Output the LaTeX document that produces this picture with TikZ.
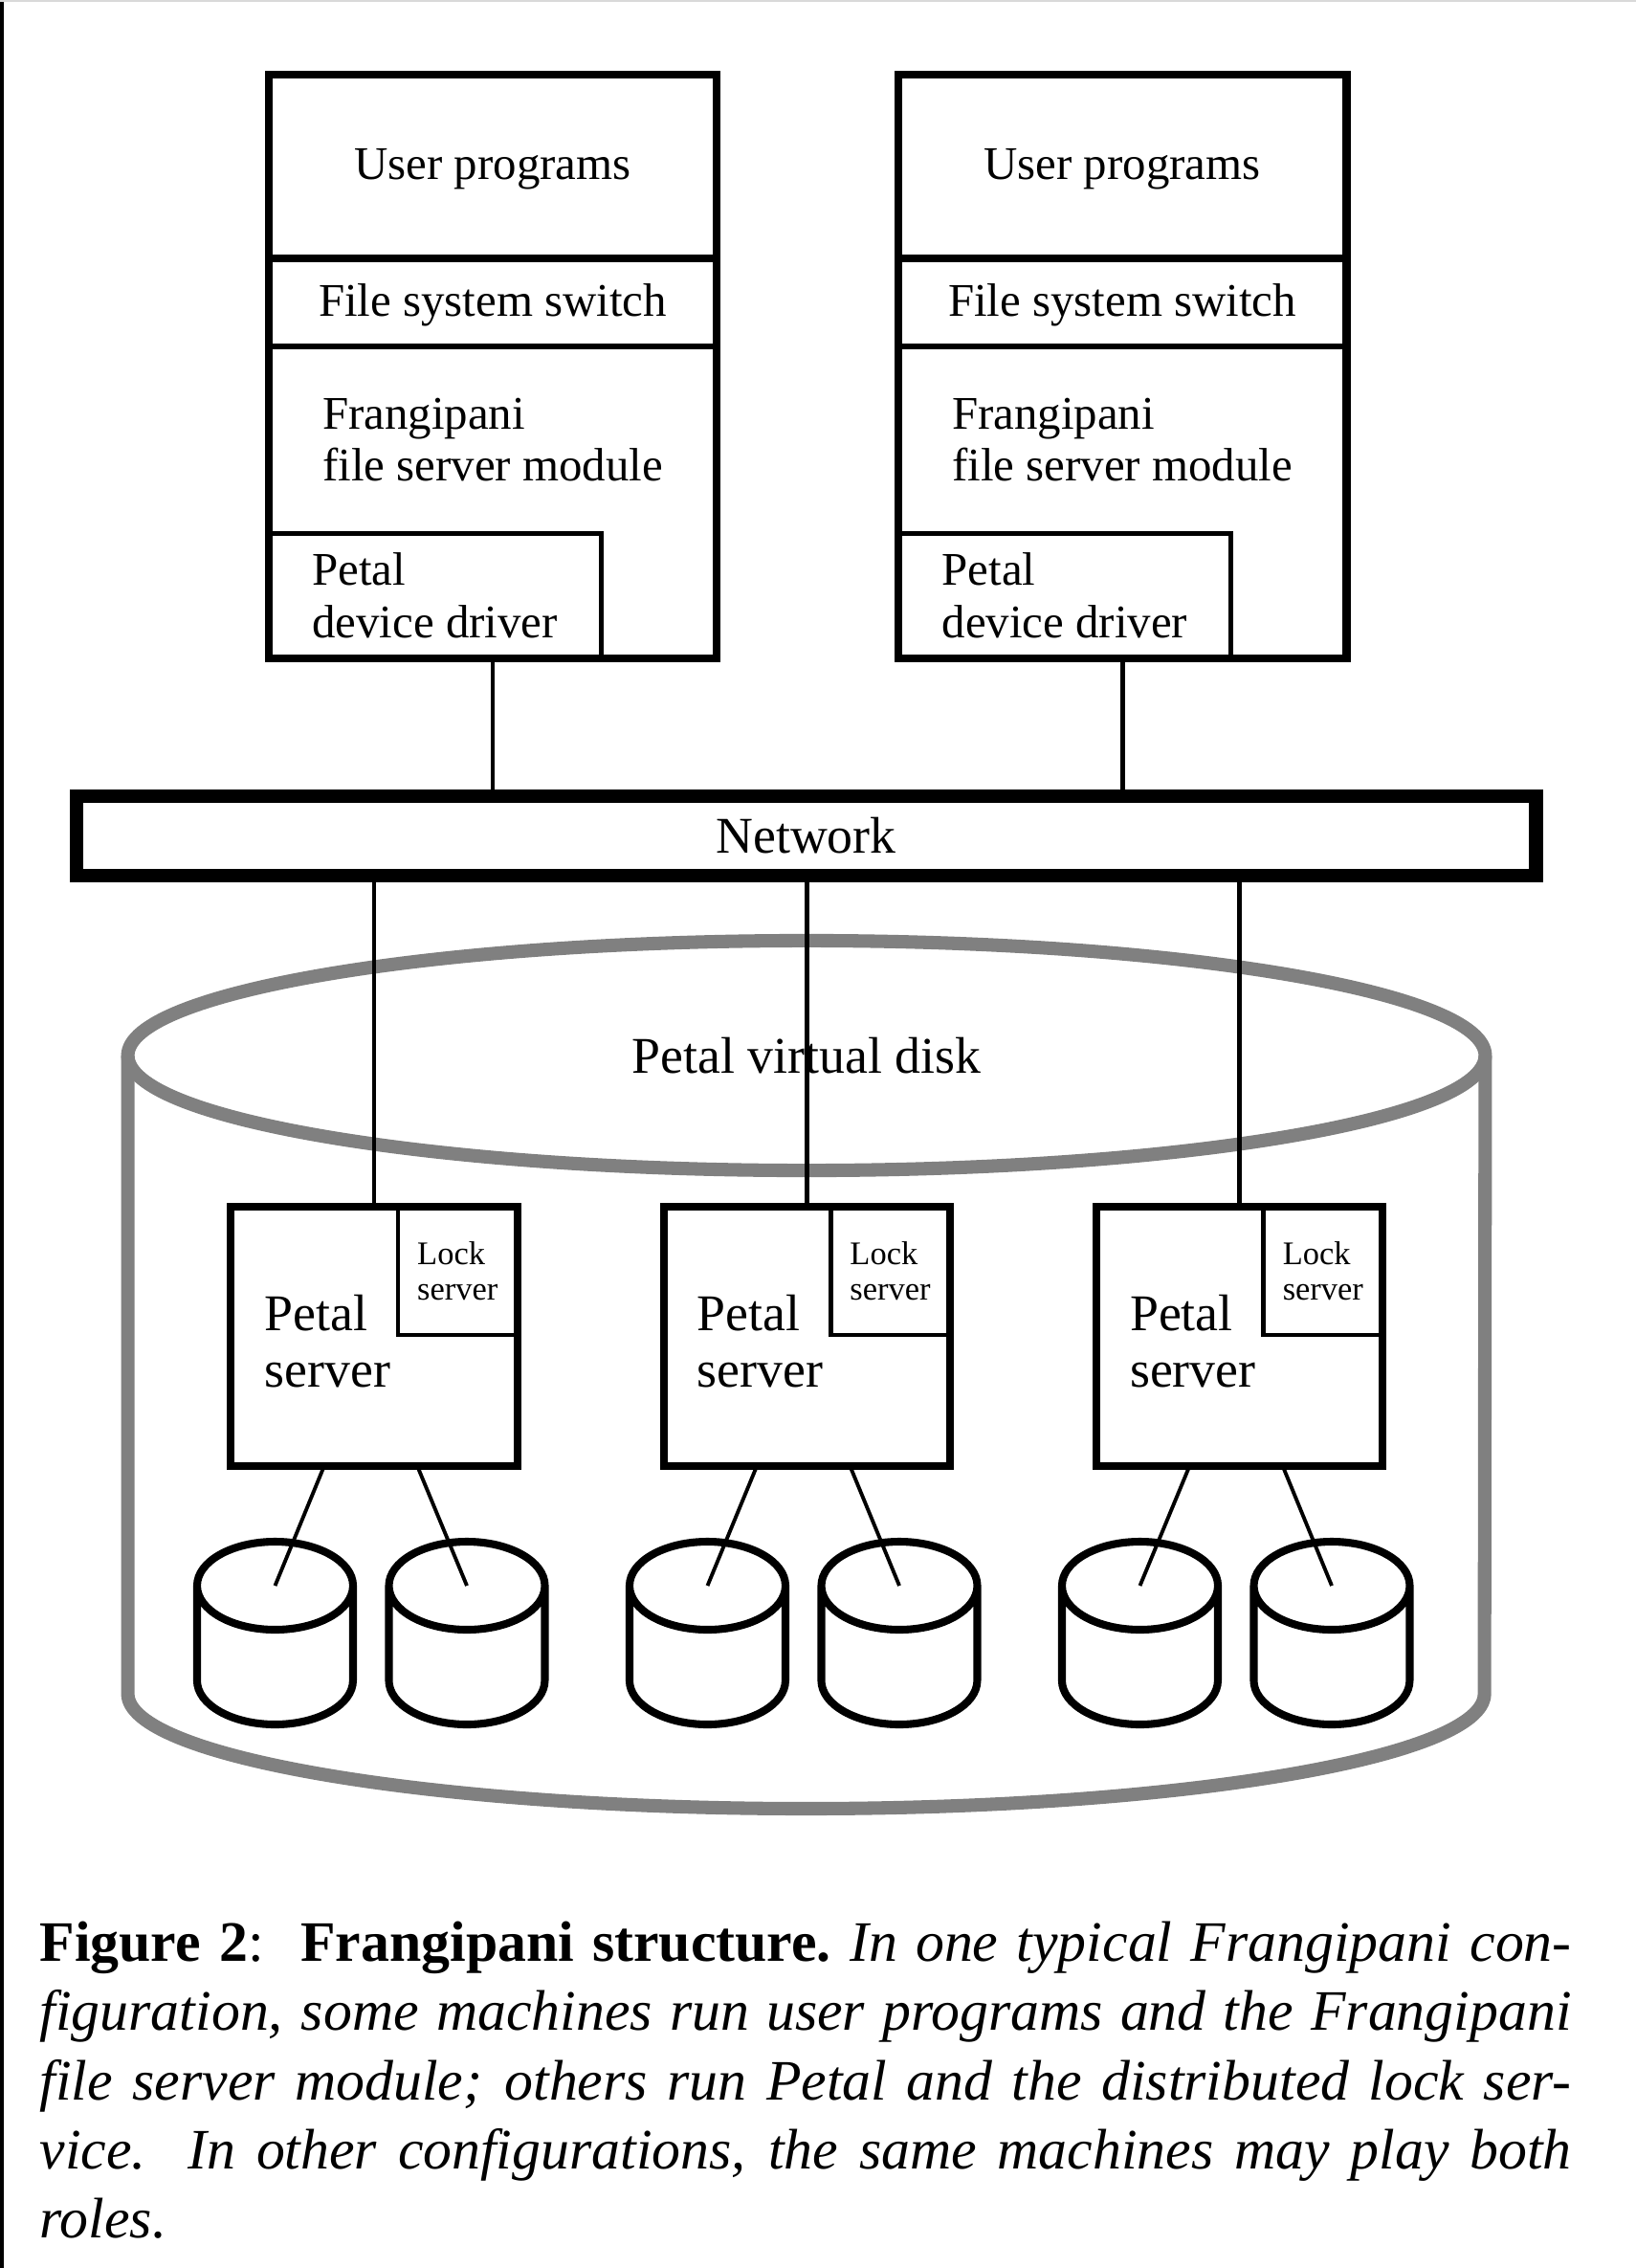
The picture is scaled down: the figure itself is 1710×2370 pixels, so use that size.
\documentclass[tikz,border=0pt]{standalone}
\usepackage{fontspec}
\setmainfont{Liberation Serif}
\usepackage{tikz}
\usetikzlibrary{positioning, shapes.geometric}

\begin{document}
\begin{tikzpicture}[
        x=0.01cm, y=-0.01cm,
        box/.style={rectangle, draw=black, line width=2.3pt, inner sep=0pt, outer sep=0pt},
        inbox/.style={rectangle, draw=black, line width=1.4pt, inner sep=0pt, outer sep=0pt, align=left},
        txt/.style={inner sep=0pt, font=\fontsize{13.9}{15.6}\selectfont},
        bigtxt/.style={inner sep=0pt, font=\fontsize{15.3}{16.8}\selectfont},
        smalltxt/.style={inner sep=0pt, font=\fontsize{9.8}{10.5}\selectfont},
        sep/.style={line width=2.3pt},
        thinsep/.style={line width=1.5pt},
        wire/.style={line width=1.4pt},
        diskwire/.style={line width=1.1pt},
        disk/.style={draw=black, line width=2.3pt},
        vdisk/.style={draw=gray, line width=4pt},
        caption/.style={inner sep=0pt, text width=16cm, align=justify, font=\fontsize{17}{20.6}\selectfont}
        ]
        \useasboundingbox (0,0) rectangle (1710,2370);
        \fill (0,0) rectangle (4,2370);
        \fill[black!15] (0,0) rectangle (1710,2);

        % client machines
        \node[box, minimum width=4.68cm, minimum height=6.10cm] (client1) at (515,383) {};
        \node[box, minimum width=4.68cm, minimum height=6.10cm, right=1.90cm of client1] (client2) {};
        \draw[sep] ([yshift=-1.92cm]client1.north west) -- ([yshift=-1.92cm]client1.north east);
        \draw[thinsep] ([yshift=-2.84cm]client1.north west) -- ([yshift=-2.84cm]client1.north east);
        \draw[sep] ([yshift=-1.92cm]client2.north west) -- ([yshift=-1.92cm]client2.north east);
        \draw[thinsep] ([yshift=-2.84cm]client2.north west) -- ([yshift=-2.84cm]client2.north east);
        \node[txt, anchor=base] (user1) at (515,188) {User programs};
        \node[txt, anchor=base] (user2) at (1173,188) {User programs};
        \node[txt, anchor=base] (fss1) at (515,331) {File system switch};
        \node[txt, anchor=base] (fss2) at (1173,331) {File system switch};
        \node[txt, align=left] (fmod1) at (515,459.5) {Frangipani\\file server module};
        \node[txt, align=left] (fmod2) at (1173,459.5) {Frangipani\\file server module};
        \node[inbox, txt, anchor=south west, minimum width=3.47cm, minimum height=1.31cm] (driver1) at (client1.south west) {Petal\\device driver};
        \node[inbox, txt, anchor=south west, minimum width=3.47cm, minimum height=1.31cm] (driver2) at (client2.south west) {Petal\\device driver};

        % network
        \node[box, line width=4pt, bigtxt, minimum width=15.25cm, minimum height=0.83cm] (net) at (842.5,873.5) {Network};

        % virtual disk
        \node[vdisk, ellipse, bigtxt, outer sep=0pt, minimum width=14.18cm, minimum height=2.40cm] (vtop) at (843,1103) {Petal virtual disk};
        \draw[vdisk] (vtop.west) -- ++(0,667) arc [start angle=180, end angle=0, x radius=709, y radius=120] -- (vtop.east);

        % petal servers
        \node[box, minimum width=2.99cm, minimum height=2.70cm] (psrv1) at (391,1396.5) {};
        \node[box, minimum width=2.99cm, minimum height=2.70cm, right=1.53cm of psrv1] (psrv2) {};
        \node[box, minimum width=2.99cm, minimum height=2.70cm, right=1.53cm of psrv2] (psrv3) {};
        \node[inbox, smalltxt, anchor=north east, minimum width=1.245cm, minimum height=1.335cm] (lock1) at (psrv1.north east) {Lock\\server};
        \node[inbox, smalltxt, anchor=north east, minimum width=1.245cm, minimum height=1.335cm] (lock2) at (psrv2.north east) {Lock\\server};
        \node[inbox, smalltxt, anchor=north east, minimum width=1.245cm, minimum height=1.335cm] (lock3) at (psrv3.north east) {Lock\\server};
        \node[bigtxt, align=left, below right=0.905cm and 0.345cm of psrv1.north west] (pname1) {Petal\\server};
        \node[bigtxt, align=left, below right=0.905cm and 0.345cm of psrv2.north west] (pname2) {Petal\\server};
        \node[bigtxt, align=left, below right=0.905cm and 0.345cm of psrv3.north west] (pname3) {Petal\\server};

        % disks
        \coordinate (d1) at (287.5,1657);
        \coordinate (d2) at (488,1657);
        \coordinate (d3) at (739.5,1657);
        \coordinate (d4) at (940,1657);
        \coordinate (d5) at (1191.5,1657);
        \coordinate (d6) at (1392,1657);
        \draw[disk] (d1) ellipse [x radius=81.5, y radius=46] ([xshift=-0.815cm]d1) -- ++(0,99) arc [start angle=180, end angle=0, x radius=81.5, y radius=46] -- ++(0,-99);
        \draw[disk] (d2) ellipse [x radius=81.5, y radius=46] ([xshift=-0.815cm]d2) -- ++(0,99) arc [start angle=180, end angle=0, x radius=81.5, y radius=46] -- ++(0,-99);
        \draw[disk] (d3) ellipse [x radius=81.5, y radius=46] ([xshift=-0.815cm]d3) -- ++(0,99) arc [start angle=180, end angle=0, x radius=81.5, y radius=46] -- ++(0,-99);
        \draw[disk] (d4) ellipse [x radius=81.5, y radius=46] ([xshift=-0.815cm]d4) -- ++(0,99) arc [start angle=180, end angle=0, x radius=81.5, y radius=46] -- ++(0,-99);
        \draw[disk] (d5) ellipse [x radius=81.5, y radius=46] ([xshift=-0.815cm]d5) -- ++(0,99) arc [start angle=180, end angle=0, x radius=81.5, y radius=46] -- ++(0,-99);
        \draw[disk] (d6) ellipse [x radius=81.5, y radius=46] ([xshift=-0.815cm]d6) -- ++(0,99) arc [start angle=180, end angle=0, x radius=81.5, y radius=46] -- ++(0,-99);

        % connectors
        \draw[wire] (client1.south) -- (client1.south |- net.north);
        \draw[wire] (client2.south) -- (client2.south |- net.north);
        \draw[wire] (net.south -| psrv1.north) -- (psrv1.north);
        \draw[wire] (net.south -| psrv2.north) -- (psrv2.north);
        \draw[wire] (net.south -| psrv3.north) -- (psrv3.north);
        \draw[diskwire] ([xshift=-0.52cm]psrv1.south) -- (d1);
        \draw[diskwire] ([xshift=0.45cm]psrv1.south) -- (d2);
        \draw[diskwire] ([xshift=-0.52cm]psrv2.south) -- (d3);
        \draw[diskwire] ([xshift=0.45cm]psrv2.south) -- (d4);
        \draw[diskwire] ([xshift=-0.52cm]psrv3.south) -- (d5);
        \draw[diskwire] ([xshift=0.45cm]psrv3.south) -- (d6);

        % caption
        \node[caption, anchor=north west] (cap) at (41,2007) {\tolerance=10000 \textbf{Figure 2}:\ \ \textbf{Frangipani structure.}\ \textit{In one typical Frangipani con-\linebreak figuration, some machines run user programs and the Frangipani\linebreak file server module; others run Petal and the distributed lock ser-\linebreak vice.\ \ In other configurations, the same machines may play both\linebreak roles.}};
    \end{tikzpicture}
\end{document}
